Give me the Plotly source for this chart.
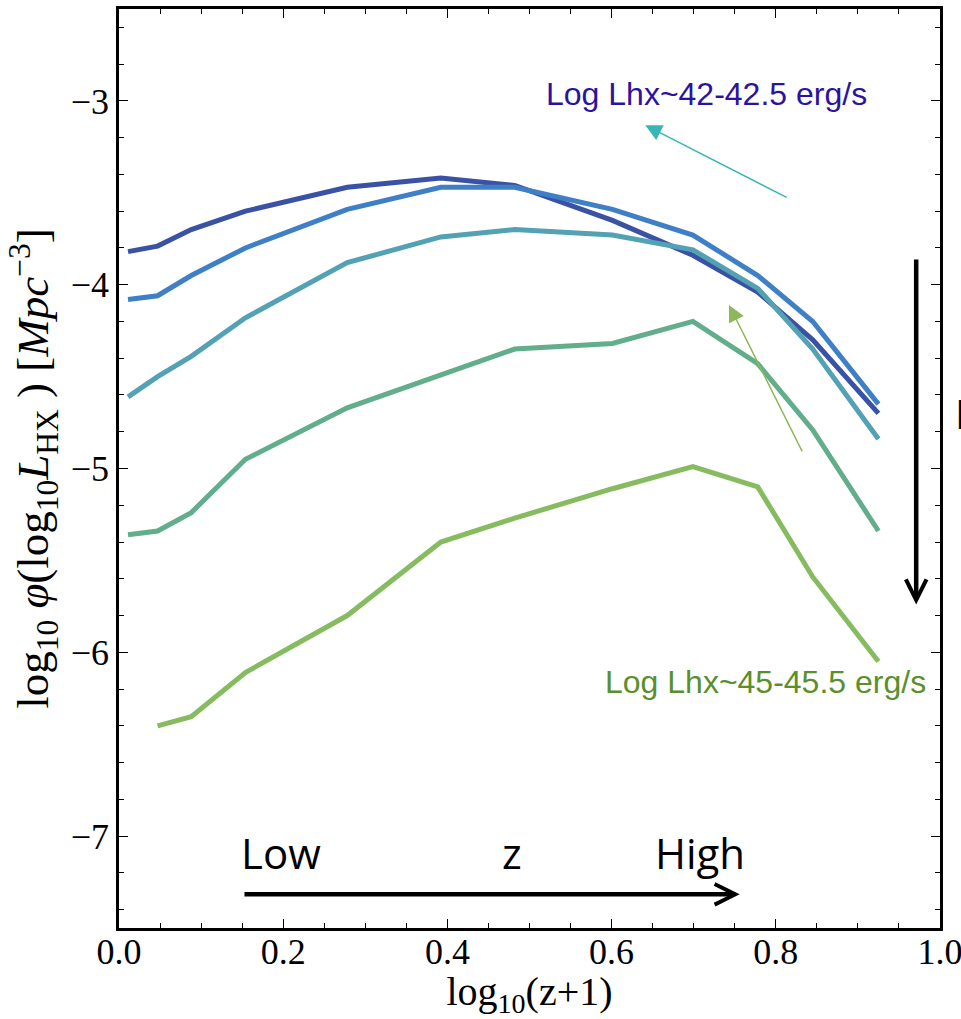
import plotly.graph_objects as go

# log10(z+1) bin centres
log_z1 = [0.011, 0.047, 0.088, 0.154, 0.278, 0.392, 0.482, 0.601, 0.699, 0.778, 0.845, 0.925]

# log10 phi for each luminosity bin (42-42.5 ... 45-45.5)
phi_42 = [-3.82, -3.79, -3.70, -3.60, -3.47, -3.42, -3.46, -3.65, -3.84, -4.04, -4.30, -4.70]
phi_43 = [-4.08, -4.06, -3.95, -3.80, -3.59, -3.47, -3.47, -3.59, -3.73, -3.95, -4.20, -4.65]
phi_44 = [-4.61, -4.50, -4.39, -4.18, -3.88, -3.74, -3.70, -3.73, -3.81, -4.02, -4.35, -4.84]
phi_445 = [-5.36, -5.34, -5.24, -4.95, -4.67, -4.49, -4.35, -4.32, -4.20, -4.43, -4.79, -5.34]
phi_45 = [None, -6.40, -6.35, -6.11, -5.80, -5.40, -5.27, -5.11, -4.99, -5.10, -5.59, -6.05]

series = [phi_42, phi_43, phi_44, phi_445, phi_45]
colors = ["#3a52a4", "#3f7fc6", "#52a1b4", "#62ad8b", "#86bc5f"]

fig = go.Figure()
for ys, c in zip(series, colors):
    fig.add_trace(go.Scatter(x=log_z1, y=ys, mode="lines",
                             line=dict(color=c, width=5), showlegend=False))

serif = "Liberation Serif"
sans = "Liberation Sans"
opensans = "Open Sans"
ann = []
# labels for the two extreme bins
ann.append(dict(x=0.716, y=-2.965, xref="x", yref="y", text="Log Lhx~42-42.5 erg/s",
                showarrow=False, font=dict(family=sans, size=32, color="#2c12a0")))
ann.append(dict(x=0.985, y=-6.16, xref="x", yref="y", text="Log Lhx~45-45.5 erg/s",
                xanchor="right", showarrow=False, font=dict(family=sans, size=32, color="#5a8f2c")))
# thin pointer arrows
ann.append(dict(x=0.641, y=-3.132, ax=0.815, ay=-3.529, xref="x", yref="y", axref="x", ayref="y",
                text="", showarrow=True, arrowhead=2, arrowsize=2.2, arrowwidth=1.5, arrowcolor="#3ab5b5"))
ann.append(dict(x=0.743, y=-4.11, ax=0.833, ay=-4.915, xref="x", yref="y", axref="x", ayref="y",
                text="", showarrow=True, arrowhead=2, arrowsize=2.2, arrowwidth=1.5, arrowcolor="#8db85a"))
# thick black arrows
ann.append(dict(x=0.971, y=-5.74, ax=0.971, ay=-3.855, xref="x", yref="y", axref="x", ayref="y",
                text="", showarrow=True, arrowhead=5, arrowsize=0.9, arrowwidth=4.5, arrowcolor="black"))
ann.append(dict(x=0.756, y=-7.317, ax=0.151, ay=-7.317, xref="x", yref="y", axref="x", ayref="y",
                text="", showarrow=True, arrowhead=5, arrowsize=0.9, arrowwidth=4.5, arrowcolor="black"))
ann.append(dict(x=0.146, y=-7.09, xref="x", yref="y", text="Low", xanchor="left",
                showarrow=False, font=dict(family=opensans, size=42, color="black")))
ann.append(dict(x=0.479, y=-7.09, xref="x", yref="y", text="z",
                showarrow=False, font=dict(family=opensans, size=42, color="black")))
ann.append(dict(x=0.651, y=-7.09, xref="x", yref="y", text="High", xanchor="left",
                showarrow=False, font=dict(family=opensans, size=42, color="black")))
ann.append(dict(x=1.0, y=0.56, xref="paper", yref="paper", xshift=13, text="L", xanchor="left",
                showarrow=False, font=dict(family=opensans, size=40, color="black")))

axis_common = dict(showline=True, linewidth=2.5, linecolor="black", mirror="allticks",
                   ticks="inside", ticklen=9, tickwidth=1.2, tickcolor="black",
                   showgrid=False, zeroline=False, automargin=False,
                   tickfont=dict(family=serif, size=36, color="black"))

fig.update_layout(
    width=961, height=1019,
    margin=dict(l=119, r=21, t=9, b=91),
    plot_bgcolor="white", paper_bgcolor="white",
    showlegend=False,
    annotations=ann,
    xaxis=dict(range=[0, 1.0], dtick=0.2, tick0=0, tickformat=".1f",
               ticklabeloverflow="allow", ticklabelstandoff=-10,
               minor=dict(dtick=0.05, ticks="inside", ticklen=5, tickcolor="black"),
               title=dict(text="log<sub>10</sub>(z+1)", standoff=0,
                          font=dict(family=serif, size=40, color="black")),
               **axis_common),
    yaxis=dict(range=[-7.5, -2.5], dtick=1, tick0=-7,
               minor=dict(dtick=0.2, ticks="inside", ticklen=5, tickcolor="black"),
               title=dict(text="log<sub>10</sub> <i>φ</i>(log<sub>10</sub><i>L</i><sub>HX</sub> ) [<i>Mpc</i><sup>−3</sup>]",
                          standoff=8, font=dict(family=serif, size=45, color="black")),
               **axis_common),
)

fig.write_html("out.html", config={"displayModeBar": False},
               post_script="document.body.style.margin='0';")
